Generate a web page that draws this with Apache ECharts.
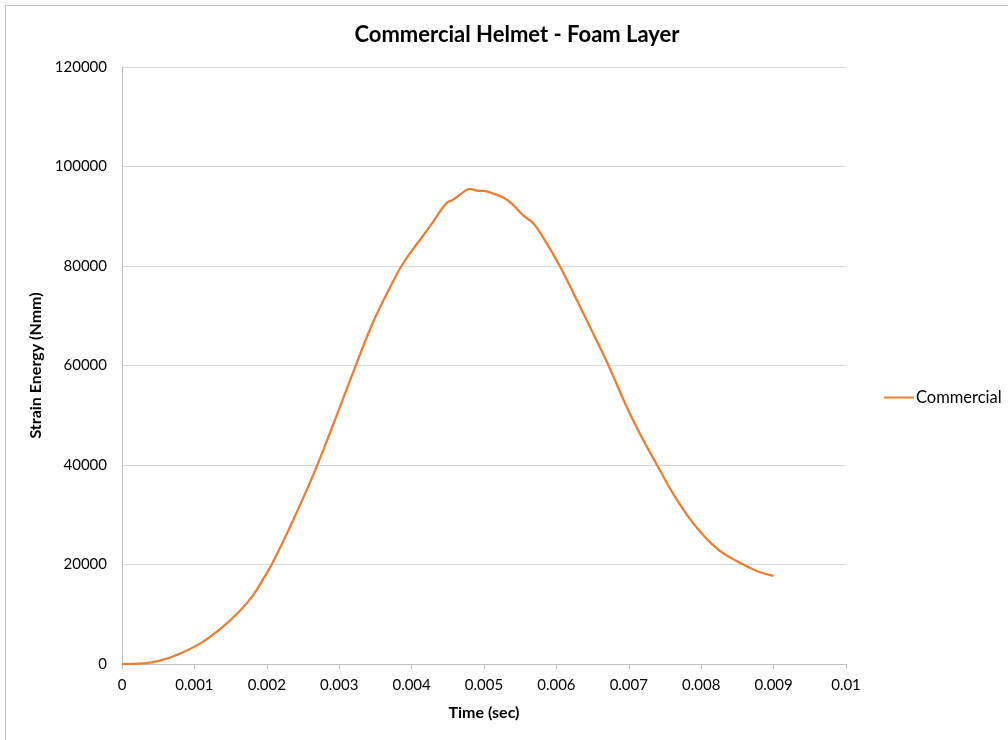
<!DOCTYPE html>
<html>
<head>
<meta charset="utf-8">
<script src="https://cdn.jsdelivr.net/npm/echarts@6/dist/echarts.min.js"></script>
<style>
html,body{margin:0;padding:0;background:#fff;}
#chart{width:1008px;height:740px;}
</style>
</head>
<body>
<div id="chart"></div>
<script>
const chartTitle = "Commercial Helmet - Foam Layer";
const seriesName = "Commercial";
const xAxisName = "Time (sec)";
const yAxisName = "Strain Energy (Nmm)";
const times = [0, 0.000295, 0.000525, 0.000755, 0.001077, 0.001354, 0.00163, 0.001814, 0.001952, 0.002067, 0.002251, 0.002413, 0.002597, 0.00278, 0.003, 0.00315, 0.00345, 0.00374, 0.00386, 0.00398, 0.00425, 0.00448, 0.00457, 0.00476, 0.00481, 0.0049, 0.00499, 0.00512, 0.00526, 0.00538, 0.00554, 0.00568, 0.00581, 0.00605, 0.00628, 0.00653, 0.00672, 0.00697, 0.00715, 0.00739, 0.00761, 0.00789, 0.00821, 0.00854, 0.00877, 0.009];
const energies = [0, 130, 670, 1800, 4100, 7000, 10700, 13900, 17100, 20000, 25400, 30500, 36500, 43000, 51300, 57000, 68100, 76800, 80000, 82600, 87900, 92600, 93300, 95300, 95500, 95150, 95100, 94600, 93800, 92600, 90200, 88600, 85900, 79900, 73200, 65800, 60000, 51700, 46400, 40000, 34300, 28300, 23300, 20300, 18700, 17700];

const data = times.map((t, i) => [t, energies[i]]);
const font = "Lato, 'Open Sans', sans-serif";
const chart = echarts.init(document.getElementById('chart'));
chart.setOption({
  animation: false,
  backgroundColor: '#fff',
  textStyle: {fontFamily: font},
  title: {
    text: chartTitle, left: 512, top: 19, textAlign: 'center',
    textStyle: {fontFamily: font, fontSize: 22, fontWeight: 'bold', color: '#000'}
  },
  graphic: [{
    type: 'rect', shape: {x: 5.5, y: 5.5, width: 1010, height: 740},
    style: {fill: 'none', stroke: '#c0c0c0', lineWidth: 1}, silent: true, z: -1
  }],
  legend: {
    left: 879, top: 384, itemWidth: 30, itemHeight: 2, itemGap: 4,
    icon: 'rect',
    textStyle: {fontFamily: font, fontSize: 16.5, color: '#000', padding: [0, 0, 0, -3]},
    data: [{name: seriesName, icon: 'rect'}]
  },
  grid: {left: 122, right: 162, top: 67, bottom: 76, containLabel: false},
  xAxis: {
    type: 'value', min: 0, max: 0.01, interval: 0.001,
    name: xAxisName, nameLocation: 'middle', nameGap: 41,
    nameTextStyle: {fontFamily: font, fontSize: 16, fontWeight: 'bold', color: '#000'},
    axisLine: {lineStyle: {color: '#bfbfbf'}},
    axisTick: {show: true, length: 5, lineStyle: {color: '#bfbfbf'}},
    axisLabel: {fontFamily: font, fontSize: 15, color: '#000', margin: 14,
      formatter: v => String(+v.toFixed(3))},
    splitLine: {show: false}
  },
  yAxis: {
    type: 'value', min: 0, max: 120000, interval: 20000,
    name: yAxisName, nameLocation: 'middle', nameGap: 78, nameRotate: 90,
    nameTextStyle: {fontFamily: font, fontSize: 16, fontWeight: 'bold', color: '#000'},
    axisLine: {show: true, lineStyle: {color: '#bfbfbf'}},
    axisTick: {show: false},
    axisLabel: {fontFamily: font, fontSize: 15, color: '#000', margin: 15,
      formatter: v => String(v)},
    splitLine: {lineStyle: {color: '#d9d9d9', width: 1}}
  },
  series: [{
    name: seriesName, type: 'line', data: data, smooth: 0.4,
    showSymbol: false, symbol: 'none',
    lineStyle: {color: '#ED7D31', width: 2.25},
    itemStyle: {color: '#ED7D31'}
  }]
});
</script>
</body>
</html>
